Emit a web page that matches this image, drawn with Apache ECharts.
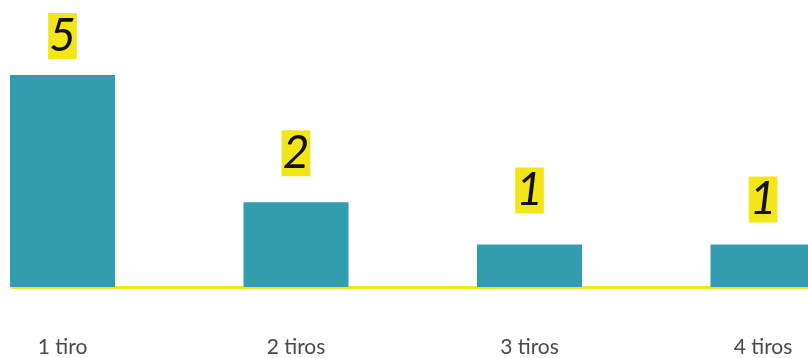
<!DOCTYPE html>
<html>
<head>
<meta charset="utf-8">
<style>
  html, body { margin: 0; padding: 0; background: #ffffff; }
  #chart { width: 808px; height: 358px; }
</style>
<script src="https://cdn.jsdelivr.net/npm/echarts@6/dist/echarts.min.js"></script>
</head>
<body>
<div id="chart"></div>
<script>
// Number of shots needed
const categories = ['1 tiro', '2 tiros', '3 tiros', '4 tiros'];
const counts = [5, 2, 1, 1];
const positions = [0, 1, 2, 3];

// Gap between each bar top and its value tag
const labelGaps = [16, 26, 31, 22];

const chart = echarts.init(document.getElementById('chart'));

chart.setOption({
  animation: false,
  backgroundColor: '#ffffff',
  grid: { left: 12, right: 0, top: 75, bottom: 71 },
  xAxis: {
    type: 'value',
    // the last bar runs past the right edge of the view
    min: -0.2163,
    max: 3.1927,
    splitLine: { show: false },
    axisLine: { show: true, onZero: false, lineStyle: { color: '#f2e619', width: 3 } },
    axisTick: { show: false },
    axisLabel: {
      customValues: positions,
      formatter: v => categories[Math.round(v)],
      margin: 50,
      color: '#4d4747',
      fontFamily: 'Lato',
      fontSize: 21
    }
  },
  yAxis: {
    type: 'value',
    min: 0,
    max: 5,
    show: false,
    splitLine: { show: false }
  },
  series: [{
    type: 'bar',
    barWidth: 105,
    z: 1,
    data: counts.map((v, i) => ({
      value: [positions[i], v],
      label: { distance: labelGaps[i] }
    })),
    itemStyle: { color: '#319dae' },
    label: {
      show: true,
      position: 'top',
      formatter: p => String(p.value[1]),
      color: '#111111',
      fontFamily: 'Lato',
      fontStyle: 'italic',
      fontSize: 46,
      lineHeight: 46,
      backgroundColor: '#f2e619',
      padding: [0, 1, 0, 1]
    }
  }]
});
</script>
</body>
</html>
